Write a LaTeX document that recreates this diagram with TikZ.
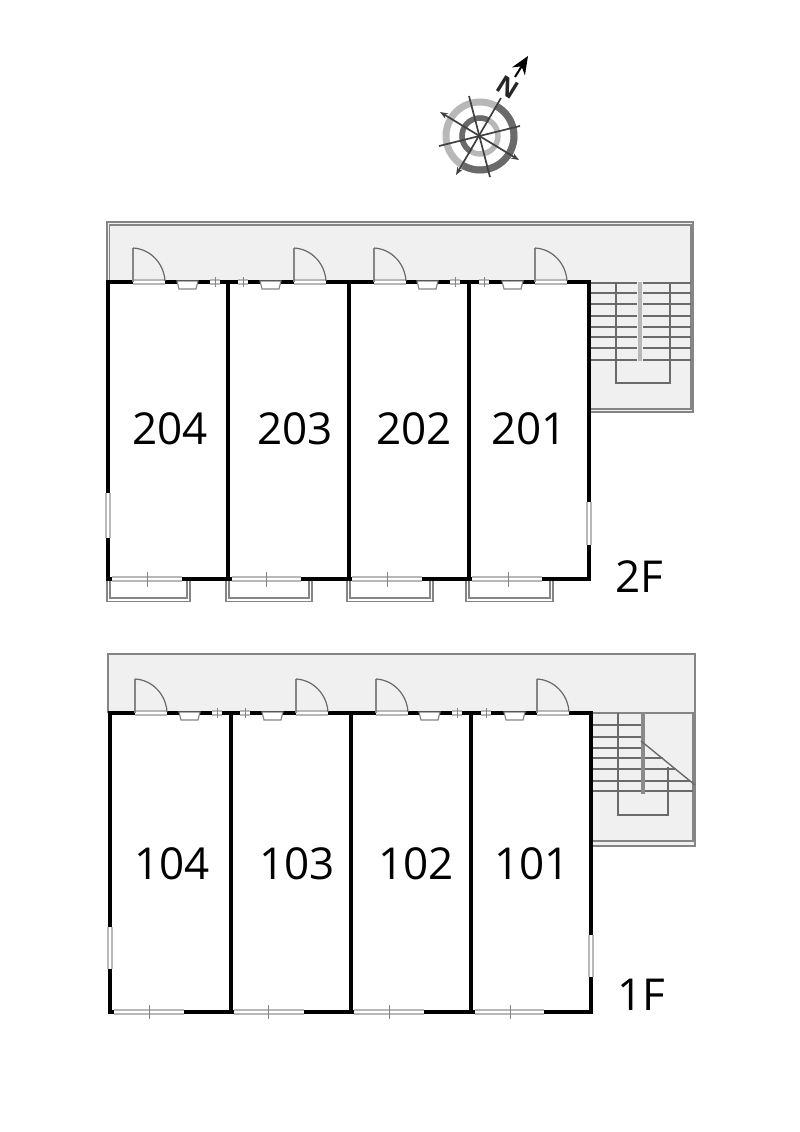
\documentclass[tikz,border=0pt]{standalone}
\usepackage{xcolor}
\usepackage{fontspec}
\usetikzlibrary{arrows.meta}
\setmainfont{Open Sans}
\definecolor{floorgray}{HTML}{F0F0F0}
\definecolor{linegray}{HTML}{858585}
\definecolor{glassgray}{HTML}{B8B8B8}
\definecolor{stairgray}{HTML}{6A6A6A}
\tikzset{
  wall/.style={draw=black, line width=3.4pt, line cap=rect},
  glass/.style={draw=glassgray, line width=1.8pt, double=white, double distance=1.6pt},
  tick/.style={draw=linegray, line width=0.9pt},
  ledge/.style={draw=linegray, line width=1.2pt},
  leaf/.style={draw=linegray, line width=1.6pt},
  swing/.style={draw=stairgray, line width=1.2pt},
  tread/.style={draw=stairgray, line width=1.1pt},
  bar/.style={draw=glassgray, line width=3.6pt},
  needle/.style={draw=stairgray!60!black, line width=1.7pt},
  room/.style={font=\fontsize{44}{44}\selectfont, inner sep=0pt}
}
\begin{document}
\begin{tikzpicture}[x=1pt, y=-1pt]
  \useasboundingbox (0,0) rectangle (800,1132);

  % compass
  \begin{scope}[shift={(480,136)}, y=1pt]
    \draw[line width=7pt, glassgray] (0,0) circle[radius=34];
    \draw[line width=7pt, stairgray] (60:34) arc[start angle=60, end angle=-120, radius=34];
    \draw[line width=5.5pt, glassgray] (0,0) circle[radius=18];
    \draw[line width=5.5pt, stairgray] (60:18) arc[start angle=60, end angle=240, radius=18];
  \end{scope}
  \coordinate (c1) at (456,175);
  \coordinate (c2) at (501,98);
  \coordinate (c3) at (440,112);
  \coordinate (c4) at (519,160);
  \coordinate (c5) at (469,96);
  \coordinate (c6) at (490,177);
  \coordinate (c7) at (439,146);
  \coordinate (c8) at (520,126);
  \coordinate (c9) at (515,77);
  \coordinate (c10) at (528,56);
  \draw[needle, {Stealth[length=8pt, width=6pt]}-{Stealth[length=8pt, width=6pt]}] (c3) -- (c4);
  \draw[needle] (c5) -- (c6);
  \draw[needle] (c7) -- (c8);
  \draw[needle, {Stealth[length=8pt, width=6pt]}-] (c1) -- (c2);
  \draw[black, line width=2pt, -{Stealth[length=18pt, width=15pt]}] (c9) -- (c10);
  \node (north) at (508,87) [rotate=-32, inner sep=0pt, font=\fontsize{25}{25}\selectfont\bfseries, black!85] {N};

  % 2F deck
  \fill[floorgray] (107,222) -- (693,222) -- (693,412) -- (589,412) -- (589,282) -- (107,282) -- cycle;
  \draw[ledge] (107,282) -- (107,222) -- (693,222) -- (693,412) -- (589,412);
  \draw[ledge] (109.5,282) -- (109.5,225) -- (691,225) -- (691,409) -- (589,409);

  % 1F deck
  \fill[floorgray] (108,654) -- (695,654) -- (695,846) -- (591,846) -- (591,713) -- (108,713) -- cycle;
  \draw[ledge] (108,713) -- (108,654) -- (695,654) -- (695,846) -- (591,846);
  \draw[ledge] (693,713) -- (693,841) -- (591,841);
  \draw[ledge] (591,713) -- (695,713);

  % 2F stairs
  \foreach \ty in {283,293,304,316,327,337,348,360}{
    \draw[tread] (589,\ty) -- (637,\ty);
    \draw[tread] (643,\ty) -- (691,\ty);
  }
  \draw[tread] (616,283) -- (616,383) -- (670,383) -- (670,283);
  \draw[bar] (640,282) -- (640,361);

  % 1F stairs
  \foreach \ty/\tx in {725/641,737/641,748/641,758/663,769/676,781/690,791/693}{
    \draw[tread] (591,\ty) -- (\tx,\ty);
  }
  \draw[tread] (618,713) -- (618,815) -- (668,815) -- (668,767);
  \draw[bar, glassgray!75!black] (643,712) -- (643,794);
  \draw[draw=stairgray, line width=1.4pt] (641,741) -- (695,785);

  % 2F balconies
  \foreach \bl/\br in {107/190,226/312,347/433,466/553}{
    \draw[ledge] (\bl,579) -- (\bl,601.5) -- (\br,601.5) -- (\br,579);
    \draw[ledge] (\bl+3,579) -- (\bl+3,598) -- (\br-3,598) -- (\br-3,579);
  }

  % walls
  \draw[wall] (108,282) rectangle (589,579);
  \foreach \wx in {228,349,469}{
    \draw[wall] (\wx,282) -- (\wx,579);
  }
  \draw[wall] (110,713) rectangle (591,1012);
  \foreach \wx in {231,351,471}{
    \draw[wall] (\wx,713) -- (\wx,1012);
  }

  % entrance side, same on both floors
  \foreach \fx/\fy in {0/0,2/431}{
    \begin{scope}[shift={(\fx,\fy)}]
      \foreach \dx/\kx/\gx in {133/177/210,294/260/238,374/417/450,535/502/479}{
        \draw[glass] (\dx,282) -- (\dx+32,282);
        \draw[leaf] (\dx,282) -- (\dx,248);
        \draw[swing] (\dx,248) .. controls (\dx+18,249) and (\dx+31,264) .. (\dx+32,281);
        \draw[ledge, fill=white] (\kx,281) -- (\kx+2,289) -- (\kx+19,289) -- (\kx+21,281) -- cycle;
        \draw[glass] (\gx,282) -- (\gx+10,282);
        \draw[tick] (\gx+5,277) -- (\gx+5,287);
      }
    \end{scope}
  }

  % 2F windows
  \draw[glass] (108,493) -- (108,538);
  \draw[glass] (589,502) -- (589,545);
  \foreach \ga/\gb/\gt in {112/182/147,232/301/266,352/422/387,472/542/508}{
    \draw[glass] (\ga,579) -- (\gb,579);
    \draw[tick] (\gt,572) -- (\gt,587);
  }

  % 1F windows
  \draw[glass] (110,927) -- (110,969);
  \draw[glass] (591,935) -- (591,977);
  \foreach \ga/\gb/\gt in {114/184/149,234/304/268,354/424/389,475/544/510}{
    \draw[glass] (\ga,1012) -- (\gb,1012);
    \draw[tick] (\gt,1005) -- (\gt,1019);
  }

  % labels
  \node (r204) at (170,429) [room] {204};
  \node (r203) at (295,429) [room] {203};
  \node (r202) at (414,429) [room] {202};
  \node (r201) at (529,429) [room] {201};
  \node (r104) at (172,864) [room] {104};
  \node (r103) at (297,864) [room] {103};
  \node (r102) at (416,864) [room] {102};
  \node (r101) at (532,864) [room] {101};
  \node (f2) at (639,577) [room] {2F};
  \node (f1) at (641,995) [room] {1F};
\end{tikzpicture}
\end{document}
